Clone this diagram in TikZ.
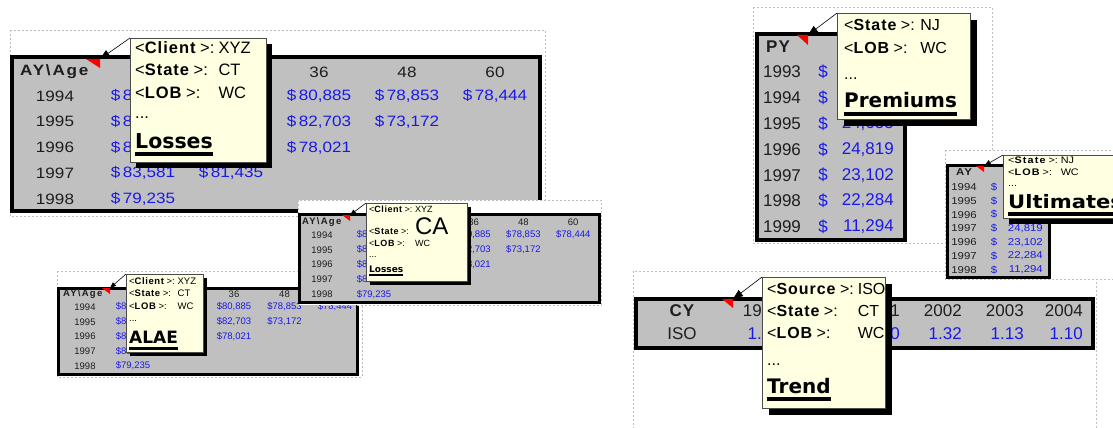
\documentclass[tikz,border=0pt]{standalone}
\usepackage{fontspec}
\setmainfont{Liberation Sans}
\newfontfamily\spaced[LetterSpace=6]{Liberation Sans}
\newfontfamily\wide[LetterSpace=13]{Liberation Sans}
\newfontfamily\cell[FakeStretch=1.14]{Liberation Sans}
\newfontfamily\widecell[FakeStretch=1.14, LetterSpace=12]{Liberation Sans}
\newfontfamily\heavy{DejaVu Sans}
\newfontfamily\heavywide[FakeStretch=1.14]{DejaVu Sans}
\usetikzlibrary{arrows.meta,shadows}

\definecolor{sheetgray}{RGB}{192,192,192}
\definecolor{tipyellow}{RGB}{255,255,225}
\definecolor{numblue}{RGB}{25,25,235}
\definecolor{yeargray}{RGB}{30,30,30}

\newcommand\fs[1]{\fontsize{#1}{#1}\selectfont}
\newcommand\key[2][\spaced]{<{#1\bfseries #2} >:}
\newcommand\headline[2][\heavy]{\setbox0\hbox{#1\bfseries #2}\rlap{\rule[-0.4em]{\wd0}{0.2em}}\box0}
% the same loss triangle sits in three sheets
\newcommand\lossdata{1/1/{85,412},2/1/{82,950},3/1/{80,885},4/1/{78,853},5/1/{78,444},
  1/2/{86,227},2/2/{84,316},3/2/{82,703},4/2/{73,172},
  1/3/{84,908},2/3/{80,577},3/3/{78,021},
  1/4/{83,581},2/4/{81,435},
  1/5/{79,235}}

\tikzset{
  panel/.style={draw=black!25, dash pattern=on 2pt off 2pt, line width=0.8pt, fill=white},
  sheet/.style={draw=black, fill=sheetgray},
  yr/.style={text=yeargray, inner sep=0pt},
  num/.style={text=numblue, inner sep=0pt},
  hdr/.style={text=yeargray, inner sep=0pt},
  flag/.style={fill=red},
  memo/.style={draw=black!70, line width=0.6pt, fill=tipyellow, anchor=north west, inner sep=0pt,
    drop shadow={shadow xshift=#1, shadow yshift=-#1, fill=black, opacity=1}},
  memotext/.style={anchor=base west, inner sep=0pt},
  pointer/.style={line width=0.6pt, -{Triangle[length=#1, width'=0pt 0.75]}}
}

\begin{document}
\begin{tikzpicture}[x=1pt, y=-1pt]
  \useasboundingbox (0,0) rectangle (1113,428);
  \clip (0,0) rectangle (1113,428);

  % losses, large sheet
  \draw[panel] (10,30) rectangle (545,216);
  \draw[sheet, line width=4pt] (12,57) rectangle (540,211);
  \node[hdr, anchor=west, font=\fs{15}\widecell\bfseries] (lhead) at (20,72) {AY\textbackslash Age};
  \foreach \a [count=\i] in {12,24,36,48,60}
    \node[yr, font=\fs{15}\cell] (lage\i) at ({143+88*(\i-1)},72) {\a};
  \foreach \yr [count=\j] in {1994,...,1998}
    \node[yr, font=\fs{15}\cell] (lyear\j) at (55,{96+25.8*(\j-1)}) {\yr};
  \foreach \i/\j/\v in \lossdata
    \node[num, font=\fs{15}\cell] (l\i-\j) at ({143+88*(\i-1)},{96+25.8*(\j-1)}) {\$\,\v};
  \coordinate (lossmark) at (100,59);
  \fill[flag] (lossmark) -- ++(-14,0) -- ++(14,9) -- cycle;
  \node[memo=6pt, minimum width=136pt, minimum height=124pt] (losstip) at (130,38) {};
  \node[memotext, font=\fontsize{16.5}{22.5}\selectfont] (losstext) at (135,53) {%
    \begin{tabular}[t]{@{}l@{\hspace{0.25em}}l@{}}
      \key{Client} & XYZ\\
      \key{State} & CT\\
      \key{LOB} & WC\\[-1.5pt]
      \multicolumn{2}{@{}l}{...}\\[6.5pt]
      \multicolumn{2}{@{}l}{\fs{20.5}\headline{Losses}}
    \end{tabular}};
  \draw[pointer=10pt] (losstip.north west) -- (lossmark);

  % alae sheet
  \draw[panel] (57,271) rectangle (362,377);
  \draw[sheet, line width=3pt] (58.5,288.5) rectangle (357,374);
  \node[hdr, anchor=west, font=\fs{9.5}\wide\bfseries] (ahead) at (63,294) {AY\textbackslash Age};
  \foreach \a [count=\i] in {12,24,36,48,60}
    \node[yr, font=\fs{9.5}] (aage\i) at ({133+50.5*(\i-1)},294) {\a};
  \foreach \yr [count=\j] in {1994,...,1998}
    \node[yr, font=\fs{9.5}] (ayear\j) at (85,{307+14.75*(\j-1)}) {\yr};
  \foreach \i/\j/\v in \lossdata
    \node[num, font=\fs{9.5}] (a\i-\j) at ({133+50.5*(\i-1)},{307+14.75*(\j-1)}) {\$\v};
  \coordinate (alaemark) at (110,288);
  \fill[flag] (alaemark) -- ++(-8,0) -- ++(8,6) -- cycle;
  \node[memo=4pt, minimum width=77pt, minimum height=78pt] (alaetip) at (126,274) {};
  \node[memotext, font=\fontsize{9.5}{12.5}\selectfont] (alaetext) at (129,284) {%
    \begin{tabular}[t]{@{}l@{\hspace{0.3em}}l@{}}
      \key{Client} & XYZ\\
      \key{State} & CT\\
      \key{LOB} & WC\\
      \multicolumn{2}{@{}l}{...}\\[6pt]
      \multicolumn{2}{@{}l}{\fs{17}\headline{ALAE}}
    \end{tabular}};
  \draw[pointer=6pt] (alaetip.north west) -- (alaemark);

  % losses, small sheet for CA
  \draw[panel] (298,200) rectangle (601,305);
  \draw[sheet, line width=3pt] (299.5,214) rectangle (599.5,302);
  \node[hdr, anchor=west, font=\fs{9.5}\wide\bfseries] (chead) at (302,222) {AY\textbackslash Age};
  \foreach \a [count=\i] in {12,24,36,48,60}
    \node[yr, font=\fs{9.5}] (cage\i) at ({374+49.8*(\i-1)},222) {\a};
  \foreach \yr [count=\j] in {1994,...,1998}
    \node[yr, font=\fs{9.5}] (cyear\j) at (322,{235+14.8*(\j-1)}) {\yr};
  \foreach \i/\j/\v in \lossdata
    \node[num, font=\fs{9.5}] (c\i-\j) at ({374+49.8*(\i-1)},{235+14.8*(\j-1)}) {\$\v};
  \coordinate (camark) at (350,215);
  \fill[flag] (camark) -- ++(-8,0) -- ++(8,6) -- cycle;
  \node[memo=4pt, minimum width=101pt, minimum height=78pt] (catip) at (366,203) {};
  \node[memotext, font=\fontsize{9}{12}\selectfont] (catext) at (369,212) {%
    \begin{tabular}[t]{@{}l@{\hspace{0.3em}}l@{}}
      \key{Client} & XYZ\\[2pt]
      \key{State} & {\fs{24}CA}\\
      \key{LOB} & WC\\[-1pt]
      \multicolumn{2}{@{}l}{...}\\[3pt]
      \multicolumn{2}{@{}l}{\fs{9}\headline{Losses}}
    \end{tabular}};
  \draw[pointer=6pt] (catip.north west) -- (camark);

  % premiums sheet
  \draw[panel] (753,7) rectangle (992,243);
  \draw[sheet, line width=4pt] (757,34) rectangle (905,240);
  \node[hdr, font=\fs{17}\spaced\bfseries] (phead) at (778,47) {PY};
  \foreach \yr/\v [count=\j] in {1993/{25,310},1994/{24,968},1995/{24,655},1996/{24,819},
      1997/{23,102},1998/{22,284},1999/{11,294}} {
    \node[yr, font=\fs{17}] (pyear\j) at (782,{72+25.8*(\j-1)}) {\yr};
    \node[num, font=\fs{17}] (pcur\j) at (823,{72+25.8*(\j-1)}) {\$};
    \node[num, font=\fs{17}, anchor=east] (pval\j) at (894,{72+25.8*(\j-1)}) {\v};
  }
  \coordinate (premmark) at (808,35);
  \fill[flag] (premmark) -- ++(-11,0) -- ++(11,10) -- cycle;
  \node[memo=7pt, minimum width=133pt, minimum height=106pt] (premtip) at (837,13) {};
  \node[memotext, font=\fontsize{16}{22}\selectfont] (premtext) at (844,31) {%
    \begin{tabular}[t]{@{}l@{\hspace{0.35em}}l@{}}
      \key{State} & NJ\\
      \key{LOB} & WC\\[4pt]
      \multicolumn{2}{@{}l}{...}\\[7pt]
      \multicolumn{2}{@{}l}{\fs{20}\headline{Premiums}}
    \end{tabular}};
  \draw[pointer=10pt] (premtip.north west) -- (premmark);

  % trend sheet
  \draw[panel] (633,271) rectangle (1096,440);
  \draw[sheet, line width=4pt] (636,299) rectangle (1093,348);
  \node[hdr, font=\fs{17}\spaced\bfseries] (thead) at (682,311) {CY};
  \node[yr, font=\fs{17}] (tsrc) at (682,334) {ISO};
  \foreach \c/\v/\x [count=\i] in {1999/1.45/781,2000/1.38/840,2001/1.40/900,
      2002/1.32/962,2003/1.13/1024,2004/1.10/1083} {
    \node[yr, font=\fs{17}, anchor=east] (tyear\i) at (\x,311) {\c};
    \node[num, font=\fs{17}, anchor=east] (tval\i) at (\x,334) {\v};
  }
  \coordinate (trendmark) at (733,299);
  \fill[flag] (trendmark) -- ++(-11,0) -- ++(11,9) -- cycle;
  \node[memo=7pt, minimum width=123pt, minimum height=131pt] (trendtip) at (762,277) {};
  \node[memotext, font=\fontsize{16}{22}\selectfont] (trendtext) at (767,294) {%
    \begin{tabular}[t]{@{}l@{\hspace{0.25em}}l@{}}
      \key{Source} & ISO\\
      \key{State} & CT\\
      \key{LOB} & WC\\[5pt]
      \multicolumn{2}{@{}l}{...}\\[6pt]
      \multicolumn{2}{@{}l}{\fs{20}\headline{Trend}}
    \end{tabular}};
  \draw[pointer=10pt] (trendtip.north west) -- (trendmark);

  % ultimates sheet
  \draw[panel] (945,150) rectangle (1125,279);
  \draw[sheet, line width=3pt] (947,165) rectangle (1049,277);
  \node[hdr, font=\fs{10}\widecell\bfseries] (uhead) at (964,172) {AY};
  \foreach \yr/\v [count=\j] in {1994/{25,310},1995/{24,968},1996/{24,655},1997/{24,819},
      1996/{23,102},1997/{22,284},1998/{11,294}} {
    \node[yr, font=\fs{10}\cell] (uyear\j) at (964,{187+13.8*(\j-1)}) {\yr};
    \node[num, font=\fs{10}\cell] (ucur\j) at (994,{187+13.8*(\j-1)}) {\$};
    \node[num, font=\fs{10}\cell, anchor=east] (uval\j) at (1043,{187+13.8*(\j-1)}) {\v};
  }
  \coordinate (ultmark) at (984,166);
  \fill[flag] (ultmark) -- ++(-8,0) -- ++(8,6) -- cycle;
  \node[memo=6pt, minimum width=130pt, minimum height=63pt] (ulttip) at (1003,155) {};
  \node[memotext, font=\fontsize{9.5}{12}\selectfont\cell] (ulttext) at (1008,163) {%
    \begin{tabular}[t]{@{}l@{\hspace{0.3em}}l@{}}
      \key[\widecell]{State} & NJ\\
      \key[\widecell]{LOB} & WC\\[-1pt]
      \multicolumn{2}{@{}l}{...}\\[5pt]
      \multicolumn{2}{@{}l}{\fs{18.5}\headline[\heavywide]{Ultimates}}
    \end{tabular}};
  \draw[pointer=7pt] (ulttip.north west) -- (ultmark);
\end{tikzpicture}
\end{document}
